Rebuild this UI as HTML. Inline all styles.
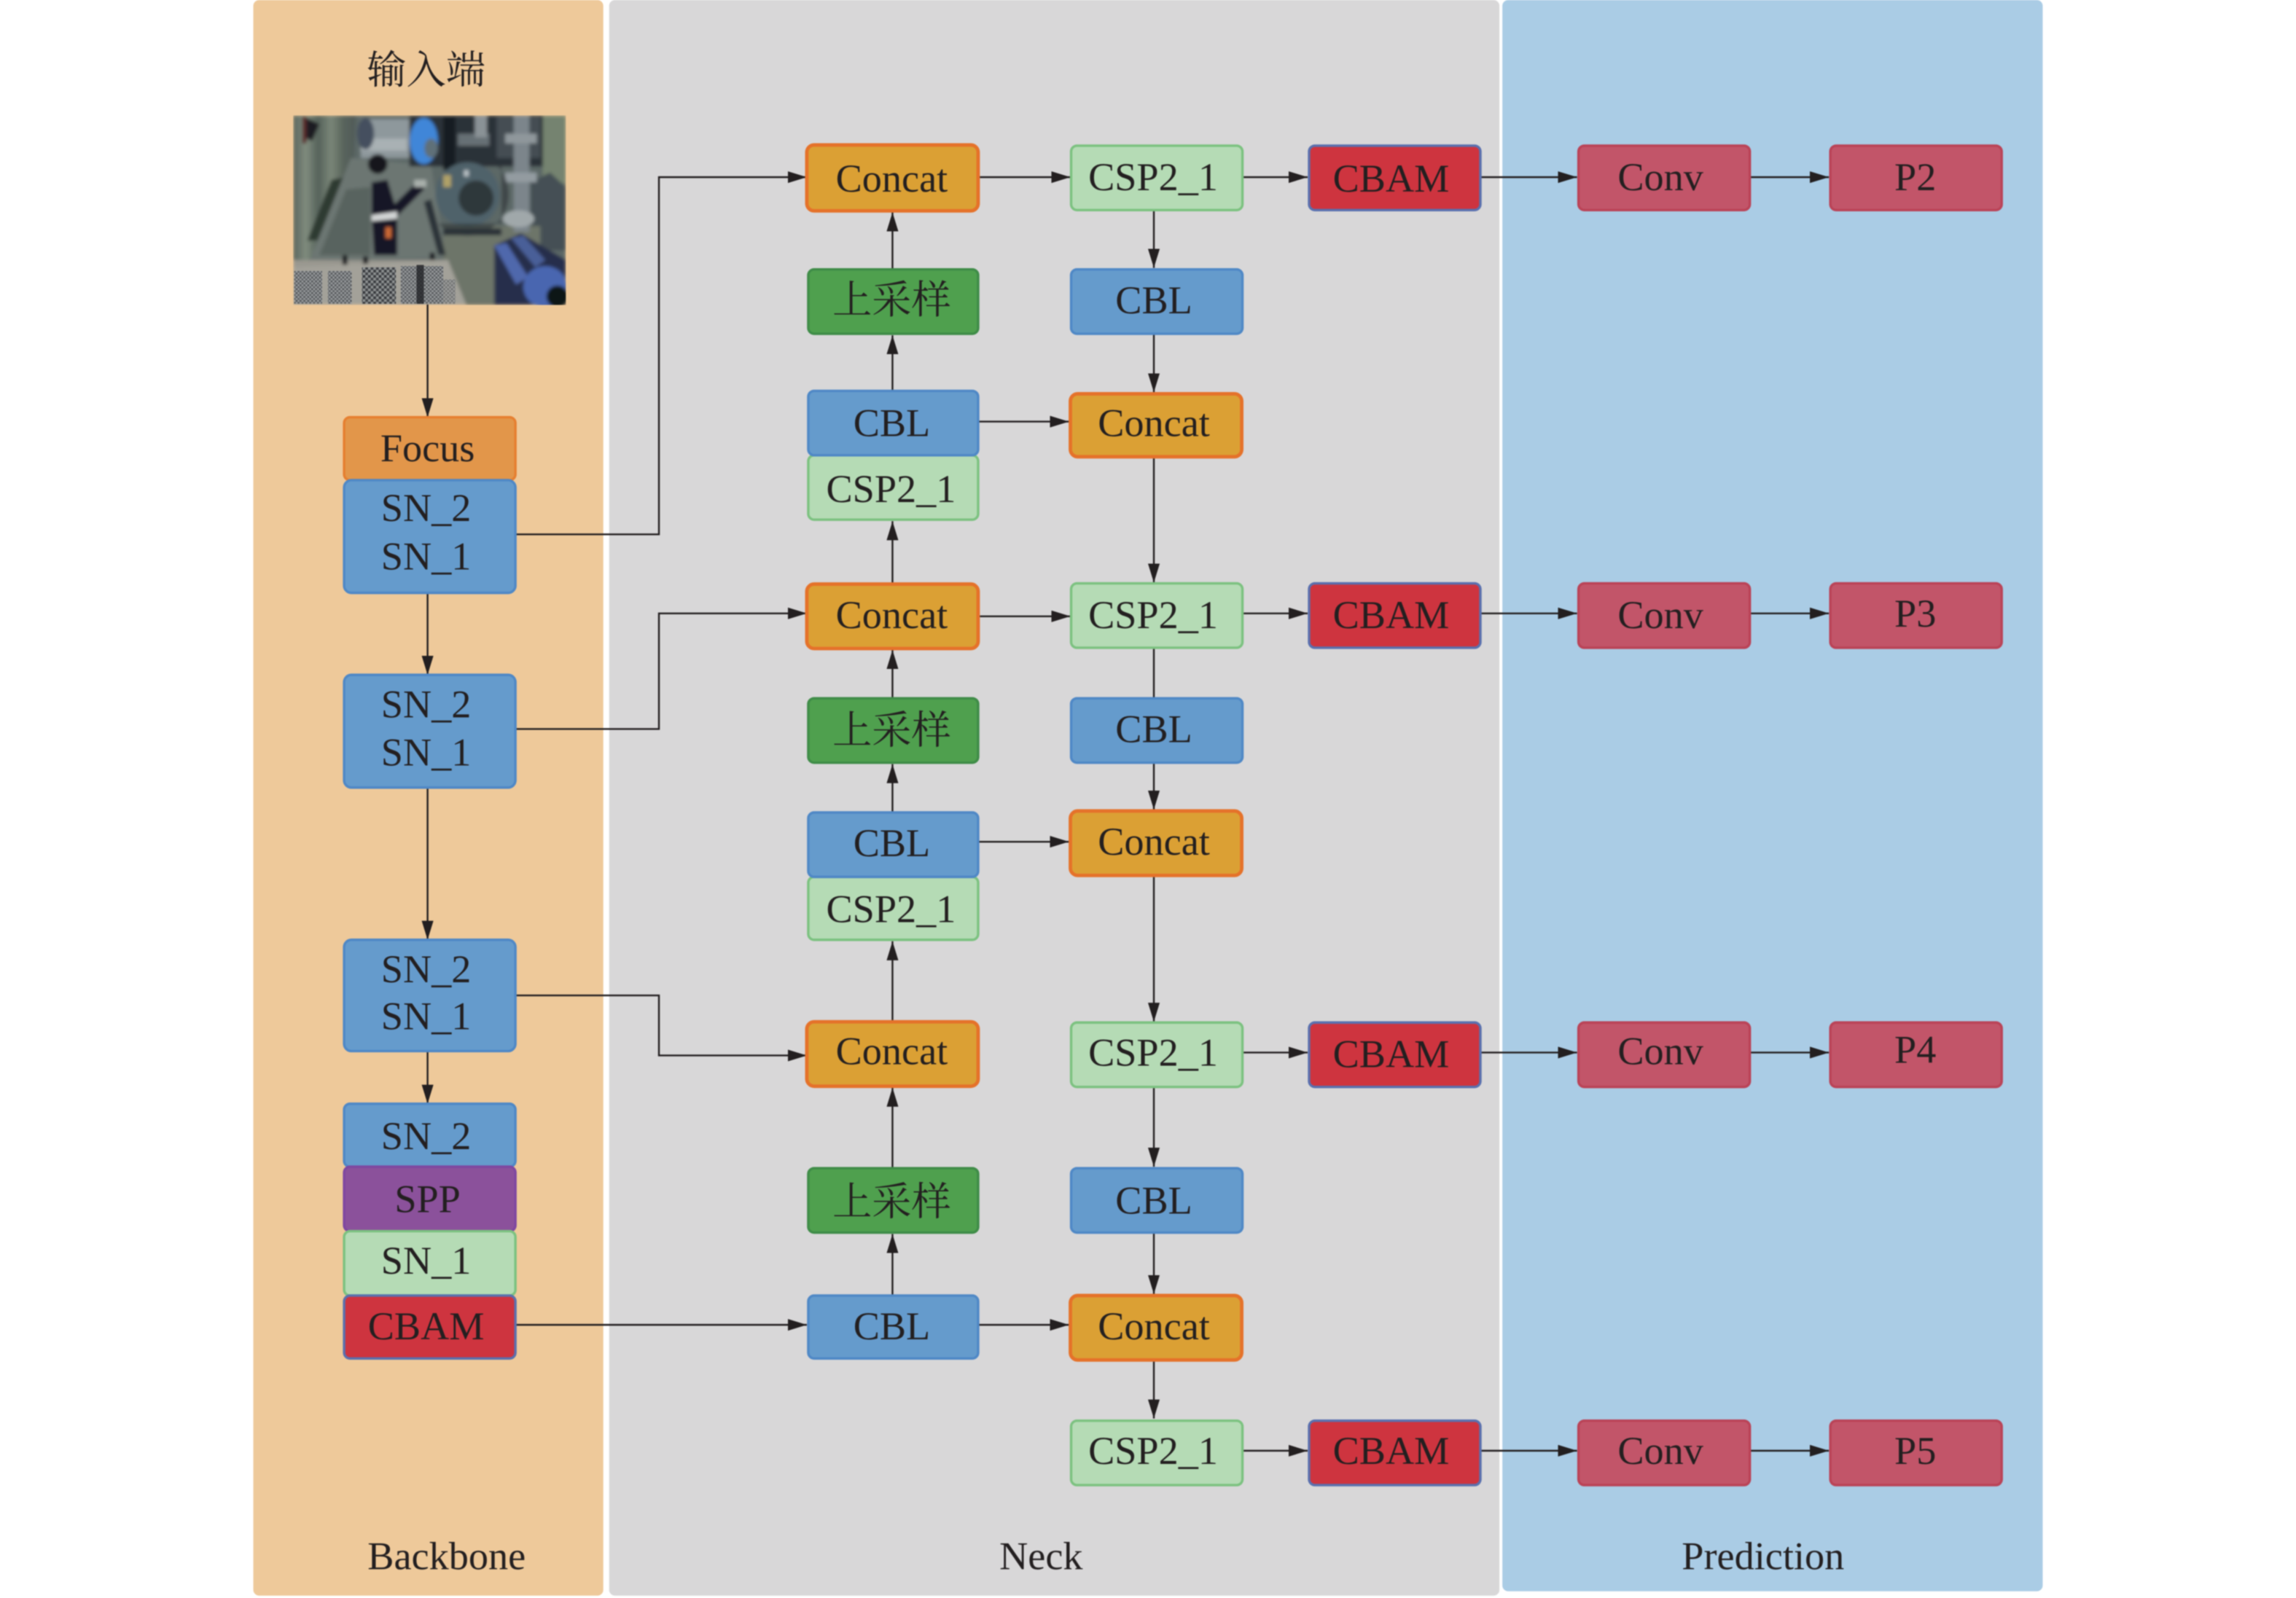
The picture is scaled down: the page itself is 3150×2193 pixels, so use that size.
<!DOCTYPE html>
<html><head><meta charset="utf-8"><title>Diagram</title>
<style>
html,body{margin:0;padding:0;background:#fff}
svg{display:block;filter:blur(.7px)}
text{font-family:"Liberation Serif","Noto Serif CJK SC",serif;font-size:27px;fill:#231f20;text-anchor:middle}
.n rect{stroke-width:1.7}
.b rect{fill:#659bcc;stroke:#4f88c6}
.o rect{fill:#dba034;stroke:#e5722a;stroke-width:2.4}
.g rect{fill:#b5dbb5;stroke:#7cc280}
.d rect{fill:#4fa04e;stroke:#3f8c48}
.r rect{fill:#ce343f;stroke:#5a70ae}
.c rect{fill:#c25569;stroke:#ba4357}
line,polyline{stroke:#231f20;stroke-width:1.2;fill:none}
</style></head><body>
<svg xmlns="http://www.w3.org/2000/svg" width="3150" height="2193" viewBox="0 0 1568 1091.6">
<defs>
<marker id="a" markerUnits="userSpaceOnUse" markerWidth="14" markerHeight="9" refX="13" refY="4" orient="auto"><path d="M0 0L13 4L0 8Z" fill="#231f20"/></marker>
<pattern id="gr" width="22" height="22" patternUnits="userSpaceOnUse"><rect width="22" height="22" fill="#8b8f90"/><rect width="11" height="11" fill="#2c2f34"/><rect x="11" y="11" width="11" height="11" fill="#36393e"/></pattern>
<pattern id="gr2" width="16" height="16" patternUnits="userSpaceOnUse"><rect width="16" height="16" fill="#989b9e"/><rect width="8" height="8" fill="#4c5054"/><rect x="8" y="8" width="8" height="8" fill="#54585c"/></pattern>
<filter id="bl" x="-2%" y="-2%" width="104%" height="104%"><feGaussianBlur stdDeviation="7"/></filter>
<clipPath id="ph"><rect x="22" y="25" width="1123" height="780"/></clipPath>
<linearGradient id="wall" x1="0" x2="1" y1="0" y2="0"><stop offset="0" stop-color="#59655d"/><stop offset=".2" stop-color="#808c7e"/><stop offset=".4" stop-color="#55625a"/><stop offset=".6" stop-color="#7a8678"/><stop offset=".8" stop-color="#59645c"/><stop offset="1" stop-color="#4f5a58"/></linearGradient>
</defs>

<rect x="173" y="0" width="239" height="1090" rx="4" fill="#eec99a"/>
<rect x="416" y="0" width="608" height="1090" rx="4" fill="#d8d7d8"/>
<rect x="1026" y="0" width="369" height="1087" rx="4" fill="#aacce5"/>

<g transform="translate(196.6 74.7) scale(.1658 .166)">
<g clip-path="url(#ph)"><g filter="url(#bl)">
<rect x="22" y="25" width="1123" height="780" fill="#5c6766"/>
<polygon points="22,25 280,25 270,250 90,620 22,620" fill="url(#wall)"/>
<polygon points="180,290 230,280 130,540 80,540" fill="#2f3a32"/>
<polygon points="260,200 590,230 650,610 90,620" fill="#6c7672"/>
<polygon points="240,330 340,320 340,600 130,600" fill="#59635e"/>
<polygon points="300,40 510,40 510,200 300,200" fill="#8e989c"/>
<rect x="300" y="120" width="190" height="50" fill="#a9b1b4"/>
<ellipse cx="320" cy="100" rx="35" ry="65" fill="#454f5e"/>
<rect x="60" y="30" width="16" height="110" fill="#5c2628"/><polygon points="76,35 130,60 100,130 76,120" fill="#1c1d20"/>
<rect x="500" y="25" width="560" height="210" fill="#2c3339"/>
<rect x="700" y="100" width="130" height="50" fill="#666f75"/>
<rect x="860" y="30" width="180" height="170" fill="#454d53"/>
<rect x="770" y="25" width="50" height="90" fill="#8a9296"/>
<rect x="1050" y="25" width="95" height="280" fill="#74836f"/>
<polygon points="1000,300 1080,260 1145,320 1145,580 1000,580" fill="#454f54"/>
<rect x="640" y="480" width="400" height="320" fill="#6d7569"/>
<rect x="930" y="25" width="65" height="480" fill="#7c858b"/>
<rect x="895" y="100" width="130" height="40" fill="#8f979b"/>
<rect x="895" y="260" width="130" height="40" fill="#939ba0"/>
<ellipse cx="950" cy="450" rx="65" ry="35" fill="#a0a8aa"/>
<ellipse cx="560" cy="130" rx="58" ry="95" fill="#3f86d8"/><ellipse cx="590" cy="160" rx="28" ry="40" fill="#5f6f78"/>
<rect x="640" y="30" width="50" height="220" fill="#181c22"/>
<circle cx="740" cy="350" r="132" fill="#4f626a"/><circle cx="775" cy="365" r="72" fill="#2f393b"/>
<path d="M620 470 L880 470 L880 230 L860 230 A130 130 0 0 1 620 470Z" fill="#2c3236" opacity=".6"/>
<rect x="725" y="250" width="20" height="26" fill="#b8c0c4"/><rect x="640" y="270" width="32" height="50" fill="#b0a168"/>
<polygon points="560,380 590,370 650,600 620,600" fill="#2c3337"/>
<rect x="640" y="490" width="240" height="28" fill="#2c3338"/>
<polygon points="850,560 960,510 1145,620 1145,805 850,805" fill="#262f4c"/>
<polygon points="850,560 900,550 990,690 940,720" fill="#4f67ac"/>
<polygon points="920,530 970,520 1060,620 1020,650" fill="#4a5e98"/>
<ellipse cx="1060" cy="730" rx="90" ry="85" fill="#4a66b0"/><circle cx="1110" cy="770" r="45" fill="#101216"/>
<circle cx="370" cy="225" r="40" fill="#14161c"/>
<polygon points="345,300 410,290 440,390 520,310 560,300 560,330 450,440 450,600 355,600 345,440" fill="#141926"/>
<polygon points="345,435 450,420 450,450 345,460" fill="#d3d6d6"/>
<rect x="402" y="485" width="24" height="45" fill="#cd6a34"/>
<rect x="520" y="290" width="50" height="30" fill="#a9b0ac"/>
<rect x="22" y="620" width="640" height="40" fill="#9a9890"/>
<rect x="225" y="600" width="20" height="40" fill="#101012"/><rect x="310" y="605" width="20" height="38" fill="#101012"/><rect x="585" y="590" width="20" height="30" fill="#101012"/>
<polygon points="22,650 660,620 735,805 22,805" fill="#a3a199"/>
</g>
<rect x="26" y="665" width="115" height="135" fill="url(#gr2)" opacity=".9"/>
<rect x="165" y="665" width="98" height="135" fill="url(#gr2)" opacity=".9"/>
<rect x="305" y="650" width="140" height="150" fill="url(#gr)" opacity=".9"/>
<rect x="465" y="645" width="175" height="155" fill="url(#gr2)" opacity=".9"/>
<rect x="530" y="640" width="30" height="160" fill="#202226" opacity=".8"/>
<rect x="640" y="700" width="50" height="100" fill="url(#gr2)" opacity=".6"/>
</g></g>

<g>
<line x1="292" y1="208" x2="292" y2="285" marker-end="url(#a)"/>
<polyline points="352,365 450,365 450,121 551,121" marker-end="url(#a)"/>
<line x1="292" y1="405" x2="292" y2="461" marker-end="url(#a)"/>
<polyline points="352,498 450,498 450,419 551,419" marker-end="url(#a)"/>
<line x1="292" y1="538" x2="292" y2="642" marker-end="url(#a)"/>
<polyline points="352,680 450,680 450,721 551,721" marker-end="url(#a)"/>
<line x1="292" y1="718" x2="292" y2="754" marker-end="url(#a)"/>
<line x1="352" y1="905" x2="551" y2="905" marker-end="url(#a)"/>

<line x1="609.5" y1="184" x2="609.5" y2="145" marker-end="url(#a)"/>
<line x1="609.5" y1="267" x2="609.5" y2="229" marker-end="url(#a)"/>
<line x1="609.5" y1="399" x2="609.5" y2="356" marker-end="url(#a)"/>
<line x1="609.5" y1="477" x2="609.5" y2="444" marker-end="url(#a)"/>
<line x1="609.5" y1="555" x2="609.5" y2="522" marker-end="url(#a)"/>
<line x1="609.5" y1="698" x2="609.5" y2="643" marker-end="url(#a)"/>
<line x1="609.5" y1="798" x2="609.5" y2="743" marker-end="url(#a)"/>
<line x1="609.5" y1="885" x2="609.5" y2="843" marker-end="url(#a)"/>

<line x1="668" y1="121" x2="731" y2="121" marker-end="url(#a)"/>
<line x1="668" y1="288" x2="730" y2="288" marker-end="url(#a)"/>
<line x1="668" y1="421" x2="731" y2="421" marker-end="url(#a)"/>
<line x1="668" y1="575" x2="730" y2="575" marker-end="url(#a)"/>
<line x1="668" y1="905" x2="730" y2="905" marker-end="url(#a)"/>

<line x1="788" y1="143" x2="788" y2="183" marker-end="url(#a)"/>
<line x1="788" y1="228" x2="788" y2="268" marker-end="url(#a)"/>
<line x1="788" y1="312" x2="788" y2="398" marker-end="url(#a)"/>
<line x1="788" y1="442" x2="788" y2="477"/>
<line x1="788" y1="521" x2="788" y2="553" marker-end="url(#a)"/>
<line x1="788" y1="598" x2="788" y2="698" marker-end="url(#a)"/>
<line x1="788" y1="742" x2="788" y2="797" marker-end="url(#a)"/>
<line x1="788" y1="842" x2="788" y2="884" marker-end="url(#a)"/>
<line x1="788" y1="929" x2="788" y2="969" marker-end="url(#a)"/>

<line x1="848" y1="121" x2="893" y2="121" marker-end="url(#a)"/>
<line x1="848" y1="419" x2="893" y2="419" marker-end="url(#a)"/>
<line x1="848" y1="719" x2="893" y2="719" marker-end="url(#a)"/>
<line x1="848" y1="991" x2="893" y2="991" marker-end="url(#a)"/>
<line x1="1011" y1="121" x2="1077" y2="121" marker-end="url(#a)"/>
<line x1="1011" y1="419" x2="1077" y2="419" marker-end="url(#a)"/>
<line x1="1011" y1="719" x2="1077" y2="719" marker-end="url(#a)"/>
<line x1="1011" y1="991" x2="1077" y2="991" marker-end="url(#a)"/>
<line x1="1195" y1="121" x2="1249" y2="121" marker-end="url(#a)"/>
<line x1="1195" y1="419" x2="1249" y2="419" marker-end="url(#a)"/>
<line x1="1195" y1="719" x2="1249" y2="719" marker-end="url(#a)"/>
<line x1="1195" y1="991" x2="1249" y2="991" marker-end="url(#a)"/>
</g>

<g class="n">
<rect x="235" y="285" width="117" height="43" rx="4" fill="#e2964a" stroke="#e67f30"/>
<g class="b">
<rect x="235" y="328" width="117" height="77" rx="5"/>
<rect x="235" y="461" width="117" height="77" rx="5"/>
<rect x="235" y="642" width="117" height="76" rx="5"/>
<rect x="235" y="754" width="117" height="43" rx="4"/>
</g>
<rect x="235" y="797" width="117" height="44" rx="4" fill="#8b519b" stroke="#7f47a0"/>
<g class="g"><rect x="235" y="841" width="117" height="44" rx="4"/></g>
<g class="r"><rect x="235" y="885" width="117" height="43" rx="4"/></g>

<g class="o"><rect x="551" y="99" width="117" height="45" rx="5"/><rect x="551" y="399" width="117" height="44" rx="5"/><rect x="551" y="698" width="117" height="44" rx="5"/></g>
<g class="d"><rect x="552" y="184" width="116" height="44" rx="4"/><rect x="552" y="477" width="116" height="44" rx="4"/><rect x="552" y="798" width="116" height="44" rx="4"/></g>
<g class="g"><rect x="552" y="311" width="116" height="44" rx="4"/><rect x="552" y="599" width="116" height="43" rx="4"/></g>
<g class="b"><rect x="552" y="267" width="116" height="44" rx="4"/><rect x="552" y="555" width="116" height="44" rx="4"/><rect x="552" y="885" width="116" height="43" rx="4"/></g>

<g class="g"><rect x="731.5" y="99.5" width="117" height="44" rx="4"/><rect x="731.5" y="398.5" width="117" height="44" rx="4"/><rect x="731.5" y="698.5" width="117" height="44" rx="4"/><rect x="731.5" y="970.5" width="117" height="44" rx="4"/></g>
<g class="b"><rect x="731.5" y="184" width="117" height="44" rx="4"/><rect x="731.5" y="477" width="117" height="44" rx="4"/><rect x="731.5" y="798" width="117" height="44" rx="4"/></g>
<g class="o"><rect x="731" y="269" width="117" height="43" rx="5"/><rect x="731" y="554" width="117" height="44" rx="5"/><rect x="731" y="885" width="117" height="44" rx="5"/></g>

<g class="r"><rect x="894" y="99.5" width="117" height="44" rx="4"/><rect x="894" y="398.5" width="117" height="44" rx="4"/><rect x="894" y="698.5" width="117" height="44" rx="4"/><rect x="894" y="970.5" width="117" height="44" rx="4"/></g>
<g class="c"><rect x="1078" y="99.5" width="117" height="44" rx="4"/><rect x="1078" y="398.5" width="117" height="44" rx="4"/><rect x="1078" y="698.5" width="117" height="44" rx="4"/><rect x="1078" y="970.5" width="117" height="44" rx="4"/>
<rect x="1250" y="99.5" width="117" height="44" rx="4"/><rect x="1250" y="398.5" width="117" height="44" rx="4"/><rect x="1250" y="698.5" width="117" height="44" rx="4"/><rect x="1250" y="970.5" width="117" height="44" rx="4"/></g>
</g>

<g>
<text x="291" y="57">输入端</text>
<text x="292" y="315">Focus</text>
<text x="291" y="356">SN_2</text><text x="291" y="389">SN_1</text>
<text x="291" y="490">SN_2</text><text x="291" y="523">SN_1</text>
<text x="291" y="671">SN_2</text><text x="291" y="703">SN_1</text>
<text x="291" y="785">SN_2</text>
<text x="292" y="828">SPP</text>
<text x="291" y="870">SN_1</text>
<text x="291" y="915">CBAM</text>

<text x="609" y="131">Concat</text>
<text x="609" y="214">上采样</text>
<text x="609" y="298">CBL</text>
<text x="608.5" y="343">CSP2_1</text>
<text x="609" y="429">Concat</text>
<text x="609" y="508">上采样</text>
<text x="609" y="585">CBL</text>
<text x="608.5" y="630">CSP2_1</text>
<text x="609" y="727">Concat</text>
<text x="609" y="830">上采样</text>
<text x="609" y="915">CBL</text>

<text x="787.5" y="130">CSP2_1</text>
<text x="788" y="214">CBL</text>
<text x="788" y="298">Concat</text>
<text x="787.5" y="429">CSP2_1</text>
<text x="788" y="507">CBL</text>
<text x="788" y="584">Concat</text>
<text x="787.5" y="728">CSP2_1</text>
<text x="788" y="829">CBL</text>
<text x="788" y="915">Concat</text>
<text x="787.5" y="1000">CSP2_1</text>

<text x="950" y="131">CBAM</text>
<text x="950" y="429">CBAM</text>
<text x="950" y="729">CBAM</text>
<text x="950" y="1000">CBAM</text>

<text x="1134" y="130">Conv</text>
<text x="1134" y="429">Conv</text>
<text x="1134" y="727">Conv</text>
<text x="1134" y="1000">Conv</text>

<text x="1308" y="130">P2</text>
<text x="1308" y="428">P3</text>
<text x="1308" y="726">P4</text>
<text x="1308" y="1000">P5</text>

<text x="305" y="1072">Backbone</text>
<text x="711" y="1072">Neck</text>
<text x="1204" y="1072">Prediction</text>
</g>
</svg>
</body></html>
